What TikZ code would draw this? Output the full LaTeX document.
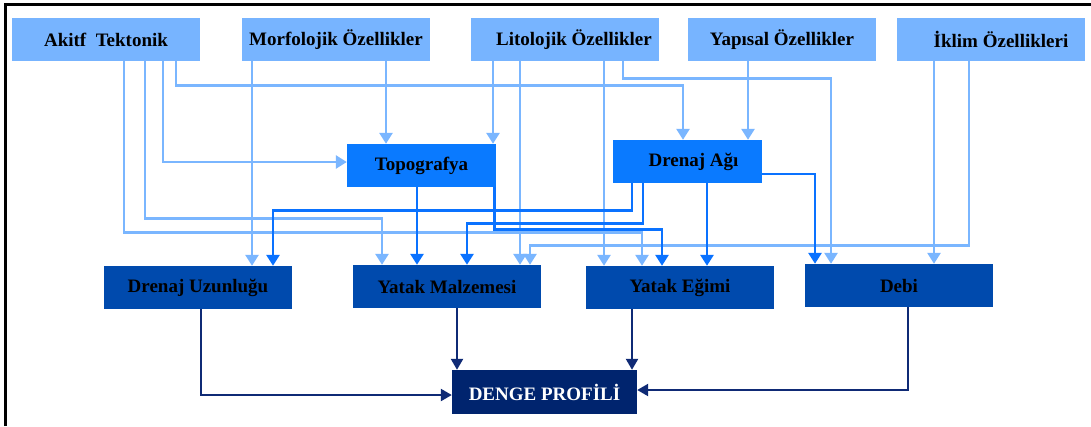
\documentclass[tikz,border=0pt]{standalone}
\usepackage{fontspec}
\setmainfont{Liberation Serif}
\usetikzlibrary{arrows.meta}
\definecolor{topc}{HTML}{77B4FF}
\definecolor{midc}{HTML}{0A7AFF}
\definecolor{botc}{HTML}{004AAD}
\definecolor{denc}{HTML}{00246E}
\definecolor{lac}{HTML}{7AB6FF}
\definecolor{mac}{HTML}{0A72FF}
\definecolor{nac}{HTML}{0F2A75}
\begin{document}
\begin{tikzpicture}[x=1pt,y=-1pt,
  box/.style={draw=none, minimum height=43pt, inner sep=0pt, text=black,
    font=\fontsize{19}{22}\selectfont\bfseries},
  topbox/.style={box, fill=topc, minimum width=188pt},
  midbox/.style={box, fill=midc, minimum width=149pt},
  botbox/.style={box, fill=botc, minimum width=188pt},
  denbox/.style={box, fill=denc, minimum width=185pt, minimum height=44pt, text=white,
    font=\fontsize{19}{22}\selectfont\bfseries},
  la/.style={draw=lac, line width=2.6pt, -{Triangle[width=13pt,length=11pt]}},
  ma/.style={draw=mac, line width=2.8pt, -{Triangle[width=13pt,length=11pt]}},
  na/.style={draw=nac, line width=2.3pt, -{Triangle[width=12pt,length=11pt]}},
  frameline/.style={draw=black, line width=2.5pt}
]
\useasboundingbox (0,0) rectangle (1091,426);
\path[fill=white] (0,0) rectangle (1091,426);
\draw[frameline] (5.5,426) -- (5.5,4.5) -- (1091,4.5);

% nodes
\node[topbox] (akt) at (106,39.5) {Akitf\ \ Tektonik};
\node[topbox] (mor) at (336,39.5) {Morfolojik Özellikler};
\node[topbox] (lit) at (565,39.5) {\hspace*{18pt}Litolojik Özellikler};
\node[topbox] (yap) at (782,39.5) {Yapısal Özellikler};
\node[topbox] (ikl) at (991,39.5) {\hspace*{20pt}İklim Özellikleri};

\node[midbox] (topo) at (421.5,165.5) {Topografya};
\node[midbox] (drn) at (687.5,161.5) {\hspace*{12pt}Drenaj Ağı};

\node[botbox] (du) at (198,287.5) {Drenaj Uzunluğu};
\node[botbox] (ym) at (447,286.5) {Yatak Malzemesi};
\node[botbox] (ye) at (680,287.5) {Yatak Eğimi};
\node[botbox] (debi) at (899,285.5) {Debi};

\node[denbox] (den) at (544.5,392) {DENGE PROFİLİ};

% light connectors
\draw[la] ([xshift=70pt]akt.south) -- ++(0,24) -| ([xshift=-4.5pt]drn.north);
\draw[la] ([xshift=57pt]akt.south) |- ([yshift=3.5pt]topo.west);
\draw[la] ([xshift=39pt]akt.south) -- ++(0,157) -| ([xshift=-65pt]ym.north);
\draw[la] ([xshift=18pt]akt.south) -- ++(0,171) -| ([xshift=-38pt]ye.north);
\draw[la] ([xshift=-84pt]mor.south) -- ([xshift=54pt]du.north);
\draw[la] ([xshift=50pt]mor.south) -- ([xshift=-35.5pt]topo.north);
\draw[la] ([xshift=-72pt]lit.south) -- ([xshift=71.5pt]topo.north);
\draw[la] ([xshift=-45pt]lit.south) -- ([xshift=73pt]ym.north);
\draw[la] ([xshift=39pt]lit.south) -- ([xshift=-76pt]ye.north);
\draw[la] ([xshift=58pt]lit.south) -- ++(0,17) -| ([xshift=-68pt]debi.north);
\draw[la] ([xshift=-34pt]yap.south) -- ([xshift=60.5pt]drn.north);
\draw[la] ([xshift=-57pt]ikl.south) -- ([xshift=35pt]debi.north);
\draw[la] ([xshift=-22pt]ikl.south) -- ++(0,184) -| ([xshift=83pt]ym.north);

% middle connectors
\draw[ma] ([xshift=-4.5pt]topo.south) -- ([xshift=-30pt]ym.north);
\draw[ma] ([xshift=-1.4pt]topo.south east) -- ++(0,42) -| ([xshift=-18pt]ye.north);
\draw[ma] ([xshift=-55.5pt]drn.south) -- ++(0,27) -| ([xshift=75pt]du.north);
\draw[ma] ([xshift=-44.5pt]drn.south) -- ++(0,40) -| ([xshift=20pt]ym.north);
\draw[ma] ([xshift=19.5pt]drn.south) -- ([xshift=27pt]ye.north);
\draw[ma] ([yshift=-12.5pt]drn.east) -| ([xshift=-84pt]debi.north);

% navy connectors
\draw[na] ([xshift=3pt]du.south) |- ([yshift=-3pt]den.west);
\draw[na] ([xshift=10pt]ym.south) -- ([xshift=-87.5pt]den.north);
\draw[na] ([xshift=-48pt]ye.south) -- ([xshift=87.5pt]den.north);
\draw[na] ([xshift=9pt]debi.south) |- ([yshift=2pt]den.east);
\end{tikzpicture}
\end{document}
